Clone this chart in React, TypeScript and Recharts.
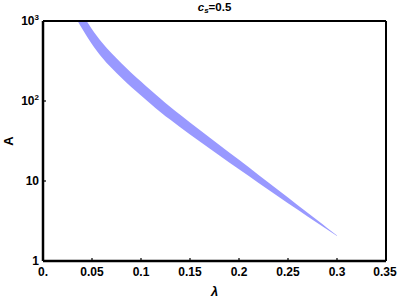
import React from "react";
import {
  ComposedChart, Area, XAxis, YAxis, ReferenceLine,
} from "recharts";

// band of allowed A vs lambda (c_s = 0.5)
const LAMBDA = [0.030, 0.035, 0.04, 0.045, 0.05, 0.055, 0.06, 0.07, 0.08, 0.09, 0.10, 0.11, 0.12, 0.13, 0.14, 0.16, 0.18, 0.20, 0.22, 0.24, 0.26, 0.28, 0.29, 0.30];
const A_LOW = [1311, 1017, 798, 635, 513, 422, 353, 258, 195, 150, 117, 91.9, 72.6, 58.1, 46.9, 31.2, 20.9, 14.0, 9.44, 6.39, 4.36, 2.98, 2.47, 2.05];
const A_HIGH = [2019, 1566, 1229, 978, 791, 650, 543, 394, 296, 226, 175, 136, 107, 84.4, 67.1, 43.4, 28.2, 18.4, 11.9, 7.73, 4.99, 3.23, 2.59, 2.08];

const X_TICKS = [0, 0.05, 0.1, 0.15, 0.2, 0.25, 0.3, 0.35];
const Y_TICKS = [1, 10, 100, 1000];
const Y_EXP: Record<number, string> = { 100: "2", 1000: "3" };

const data = LAMBDA.map((l, i) => ({ lambda: l, band: [A_LOW[i], A_HIGH[i]] }));

const FONT = '"Liberation Sans", Arial, sans-serif';

type TickProps = { x?: number; y?: number; payload?: { value: number } };

const XTick = ({ x, y, payload }: TickProps) => {
  const v = payload?.value ?? 0;
  return (
    <text x={x} y={y} dy="0.71em" textAnchor="middle" fontFamily={FONT} fontWeight={700} fontSize={12} fill="#000">
      {v === 0 ? "0." : String(v)}
    </text>
  );
};

const YTick = ({ x, y, payload }: TickProps) => {
  const v = payload?.value ?? 0;
  const exp = Y_EXP[v];
  return (
    <text x={x} y={y} dy="0.36em" textAnchor="end" fontFamily={FONT} fontWeight={700} fontSize={12} fill="#000">
      {exp ? (
        <>
          <tspan>10</tspan>
          <tspan fontSize={8} dy={-5}>{exp}</tspan>
        </>
      ) : String(v)}
    </text>
  );
};

type VB = { viewBox?: { x: number; y: number; width: number; height: number } };

const YLabel = ({ viewBox }: VB) => {
  if (!viewBox) return null;
  const cx = 8, cy = viewBox.y + viewBox.height / 2;
  return (
    <text x={cx} y={cy} transform={`rotate(-90 ${cx} ${cy})`} textAnchor="middle" dy="0.36em"
      fontFamily={FONT} fontWeight={700} fontSize={13} fill="#000">A</text>
  );
};

const XLabel = ({ viewBox }: VB) => {
  if (!viewBox) return null;
  return (
    <text x={viewBox.x + viewBox.width / 2} y={296} textAnchor="middle"
      fontFamily={FONT} fontWeight={700} fontStyle="italic" fontSize={13} fill="#000">λ</text>
  );
};

export default function App() {
  return (
    <div style={{ position: "absolute", left: 0, top: 0, width: 399, height: 299, background: "#fff" }}>
      <div style={{
        position: "absolute", left: 0, top: 0, width: 429, textAlign: "center",
        font: `bold 11.5px ${FONT}`, lineHeight: "14px", color: "#000",
      }}>
        <i>c</i><span style={{ fontSize: 8, fontStyle: "italic", verticalAlign: -2 }}>s</span>=0.5
      </div>
      <ComposedChart width={399} height={299} data={data}
        margin={{ top: 21, right: 13, bottom: 0, left: 0 }}>
        <XAxis type="number" dataKey="lambda" domain={[0, 0.35]} ticks={X_TICKS}
          height={38} tick={<XTick />} tickSize={-3} tickMargin={9}
          axisLine={{ stroke: "#000", strokeWidth: 2.5 }} tickLine={{ stroke: "#000", strokeWidth: 1.2 }}
          label={<XLabel />} />
        <YAxis type="number" scale="log" domain={[1, 1000]} allowDataOverflow ticks={Y_TICKS}
          width={43} tick={<YTick />} tickSize={-3} tickMargin={7}
          axisLine={{ stroke: "#000", strokeWidth: 2.5 }} tickLine={{ stroke: "#000", strokeWidth: 1.2 }}
          label={<YLabel />} />
        <Area type="monotone" dataKey="band" stroke="none" fill="#9999ff" fillOpacity={1}
          isAnimationActive={false} />
        <ReferenceLine y={1000} stroke="#000" strokeWidth={2} />
        <ReferenceLine x={0.35} stroke="#000" strokeWidth={2} />
      </ComposedChart>
    </div>
  );
}
